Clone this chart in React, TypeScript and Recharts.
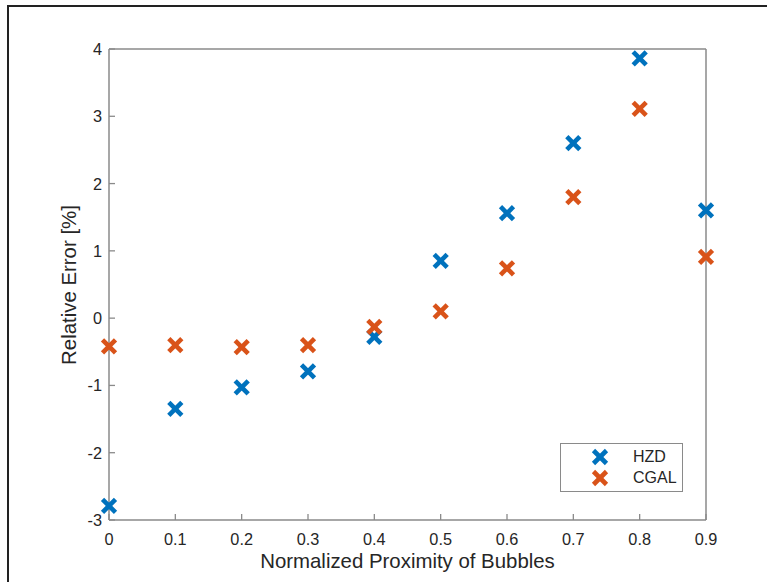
import React from 'react';
import { ScatterChart, Scatter, XAxis, YAxis } from 'recharts';

// proximity values on the x axis
const PROXIMITY = [0, 0.1, 0.2, 0.3, 0.4, 0.5, 0.6, 0.7, 0.8, 0.9];
// relative error [%] per method
const HZD = [-2.79, -1.35, -1.03, -0.79, -0.28, 0.85, 1.56, 2.6, 3.86, 1.6];
const CGAL = [-0.42, -0.4, -0.43, -0.4, -0.13, 0.1, 0.74, 1.8, 3.11, 0.91];

const X_TICKS = [0, 0.1, 0.2, 0.3, 0.4, 0.5, 0.6, 0.7, 0.8, 0.9];
const Y_TICKS = [-3, -2, -1, 0, 1, 2, 3, 4];

const SERIES = [
  { name: 'HZD', values: HZD, color: '#0072BD' },
  { name: 'CGAL', values: CGAL, color: '#D95319' },
];

const AXIS_COLOR = '#8a8a8a';
const TEXT_COLOR = '#262626';
const FONT = '"Liberation Sans", Arial, Helvetica, sans-serif';

const W = 767;
const H = 582;
const PLOT = { left: 109, top: 49, right: 706, bottom: 520 };
const AX = 30; // room reserved for each axis

const Cross = ({ cx, cy, color, r = 6.5 }: { cx?: number; cy?: number; color: string; r?: number }) => {
  if (cx == null || cy == null) return null;
  return (
    <g>
      <line x1={cx - r} y1={cy - r} x2={cx + r} y2={cy + r} stroke={color} strokeWidth={4.6} />
      <line x1={cx - r} y1={cy + r} x2={cx + r} y2={cy - r} stroke={color} strokeWidth={4.6} />
    </g>
  );
};

const BottomTick = (props: any) => {
  const { x, y, payload } = props;
  return (
    <g>
      <line x1={x} y1={y} x2={x} y2={y - 6} stroke={AXIS_COLOR} strokeWidth={1.3} />
      <text x={x} y={y + 25} textAnchor="middle" fill={TEXT_COLOR} fontSize={16.3} fontFamily={FONT}>
        {payload.value}
      </text>
    </g>
  );
};

const TopTick = (props: any) => {
  const { x, y } = props;
  return <line x1={x} y1={y} x2={x} y2={y + 6} stroke={AXIS_COLOR} strokeWidth={1.3} />;
};

const LeftTick = (props: any) => {
  const { x, y, payload } = props;
  return (
    <g>
      <line x1={x} y1={y} x2={x + 6} y2={y} stroke={AXIS_COLOR} strokeWidth={1.3} />
      <text x={x - 7} y={y + 6} textAnchor="end" fill={TEXT_COLOR} fontSize={16.3} fontFamily={FONT}>
        {payload.value}
      </text>
    </g>
  );
};

const RightTick = (props: any) => {
  const { x, y } = props;
  return <line x1={x} y1={y} x2={x - 6} y2={y} stroke={AXIS_COLOR} strokeWidth={1.3} />;
};

export default function App() {
  const seriesData = SERIES.map((s) => ({
    ...s,
    data: PROXIMITY.map((p, i) => ({ x: p, y: s.values[i] })),
  }));

  const axisCommon = {
    type: 'number' as const,
    tickSize: 0,
    tickMargin: 0,
    tickLine: false,
    interval: 0 as const,
    stroke: AXIS_COLOR,
    strokeWidth: 1.5,
  };

  return (
    <div style={{ position: 'absolute', left: 0, top: 0, width: W, height: H, background: '#fff', overflow: 'hidden' }}>
      {/* figure frame, only top and left edges visible */}
      <div
        style={{
          position: 'absolute',
          left: 7,
          top: 5,
          width: W,
          height: H,
          borderTop: '2.5px solid #222',
          borderLeft: '2.5px solid #222',
        }}
      />
      <ScatterChart
        width={W}
        height={H}
        margin={{
          top: PLOT.top - AX,
          right: W - PLOT.right - AX,
          bottom: H - PLOT.bottom - AX,
          left: PLOT.left - AX,
        }}
        style={{ position: 'absolute', left: 0, top: 0 }}
      >
        <XAxis {...axisCommon} xAxisId="bottom" dataKey="x" domain={[0, 0.9]} ticks={X_TICKS} height={AX} tick={<BottomTick />} />
        <XAxis {...axisCommon} xAxisId="top" orientation="top" dataKey="x" domain={[0, 0.9]} ticks={X_TICKS} height={AX} tick={<TopTick />} />
        <YAxis {...axisCommon} yAxisId="left" dataKey="y" domain={[-3, 4]} ticks={Y_TICKS} width={AX} tick={<LeftTick />} />
        <YAxis {...axisCommon} yAxisId="right" orientation="right" dataKey="y" domain={[-3, 4]} ticks={Y_TICKS} width={AX} tick={<RightTick />} />
        {seriesData.map((s) => (
          <Scatter
            key={`series-${s.name}`}
            name={s.name}
            data={s.data}
            xAxisId="bottom"
            yAxisId="left"
            isAnimationActive={false}
            shape={(p: any) => <Cross cx={p.cx} cy={p.cy} color={s.color} />}
          />
        ))}
      </ScatterChart>

      {/* axis labels */}
      <div
        style={{
          position: 'absolute',
          left: PLOT.left,
          width: PLOT.right - PLOT.left,
          top: 549,
          textAlign: 'center',
          fontFamily: FONT,
          fontSize: 20.4,
          color: TEXT_COLOR,
          lineHeight: '24px',
        }}
      >
        Normalized Proximity of Bubbles
      </div>
      <div
        style={{
          position: 'absolute',
          left: 69 - 150,
          top: (PLOT.top + PLOT.bottom) / 2 - 12,
          width: 300,
          textAlign: 'center',
          fontFamily: FONT,
          fontSize: 20.4,
          color: TEXT_COLOR,
          lineHeight: '24px',
          transform: 'rotate(-90deg)',
        }}
      >
        Relative Error [%]
      </div>

      {/* legend */}
      <div
        style={{
          position: 'absolute',
          left: 560,
          top: 443,
          width: 121,
          height: 47,
          border: `1.3px solid ${AXIS_COLOR}`,
          background: '#fff',
          fontFamily: FONT,
          fontSize: 16,
          color: TEXT_COLOR,
        }}
      >
        {SERIES.map((s, i) => (
          <div
            key={`legend-${s.name}`}
            style={{ position: 'absolute', left: 0, top: 3 + i * 21, height: 20, display: 'flex', alignItems: 'center' }}
          >
            <svg width={60} height={20}>
              <Cross cx={39} cy={10} color={s.color} />
            </svg>
            <span style={{ marginLeft: 12 }}>{s.name}</span>
          </div>
        ))}
      </div>
    </div>
  );
}
